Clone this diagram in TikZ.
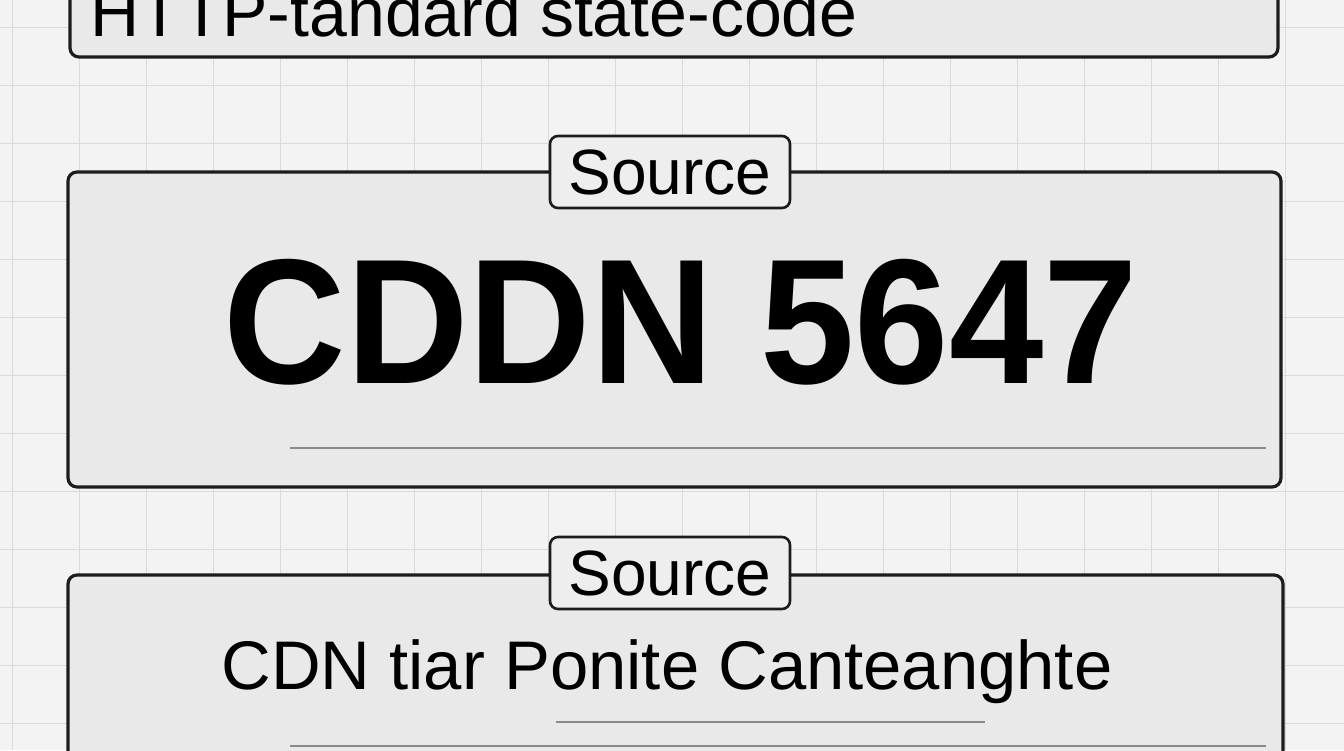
\documentclass[tikz,border=0pt]{standalone}
\usepackage{fontspec}
\setmainfont{Liberation Sans}
\definecolor{bgc}{HTML}{F3F3F3}
\definecolor{gridc}{HTML}{DADADA}
\definecolor{panelc}{HTML}{E9E9E9}
\definecolor{tagc}{HTML}{EEEEEE}
\definecolor{inkc}{HTML}{1C1C1C}
\definecolor{rulec}{HTML}{8A8A8A}
\tikzset{
  panel/.style={draw=inkc, fill=panelc, line width=1.6pt, rounded corners=4.5pt},
  tag/.style={draw=inkc, fill=tagc, line width=1.3pt, rounded corners=4pt,
    minimum width=120pt, minimum height=36pt, inner sep=0pt,
    font=\fontsize{32pt}{36pt}\selectfont, text=black},
  gridline/.style={draw=gridc, line width=0.5pt},
  innerrule/.style={draw=rulec, line width=0.8pt}
}
\begin{document}
\begin{tikzpicture}[x=0.5pt,y=-0.5pt]
\useasboundingbox (0,0) rectangle (1344,750);
\begin{scope}
\clip (0,0) rectangle (1344,750);
\fill[bgc] (0,0) rectangle (1344,750);
\foreach \gx in {12,79,146,213,280,347,414,481,548,615,682,749,816,883,950,1017,1084,1151,1218,1285} {
  \draw[gridline] (\gx,0) -- (\gx,750);
}
\foreach \gy in {27,85,143,201,259,317,375,433,491,549,607,665,723} {
  \draw[gridline] (0,\gy) -- (1344,\gy);
}
% top panel
\draw[panel] (70,-40) rectangle (1278,57);
\node[anchor=base west, inner sep=0pt, font=\fontsize{34pt}{40pt}\selectfont] (title) at (90,36) {HTTP-tandard state-code};
% middle panel
\draw[panel] (68,172) rectangle (1281,487);
\draw[innerrule] (290,448) -- (1266,448);
\node[tag] (src1) at (670,172) {Source};
\node[anchor=base, inner sep=0pt, xscale=0.953, transform shape, font=\fontsize{89pt}{95pt}\selectfont\bfseries] (code) at (681,383) {CDDN 5647};
% bottom panel
\draw[panel] (68,575) rectangle (1283,790);
\draw[innerrule] (556,722) -- (985,722);
\draw[innerrule] (290,746) -- (1266,746);
\node[tag] (src2) at (670,573) {Source};
\node[anchor=base, inner sep=0pt, font=\fontsize{34.4pt}{40pt}\selectfont] (desc) at (667,689) {CDN tiar Ponite Canteanghte};
\end{scope}
\end{tikzpicture}
\end{document}
